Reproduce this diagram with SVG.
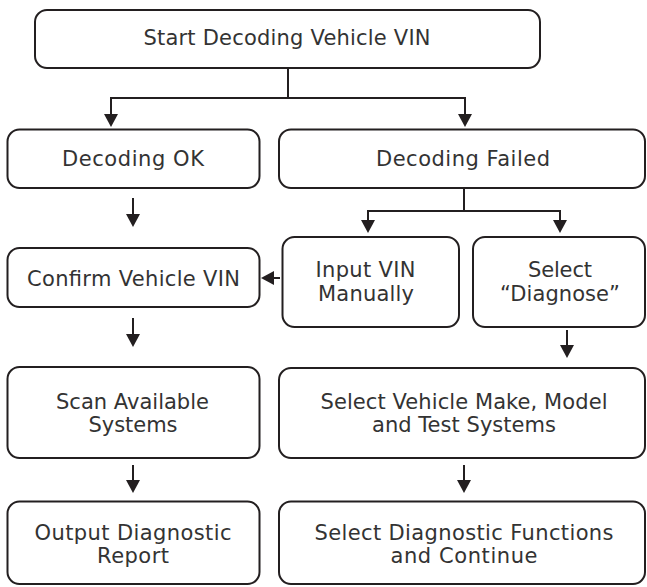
<svg xmlns="http://www.w3.org/2000/svg" width="647" height="587" viewBox="0 0 647 587">
  <style>
    .box { fill: #ffffff; stroke: #231f20; stroke-width: 2; }
    .lbl { font-family: "DejaVu Sans", "Liberation Sans", sans-serif; font-size: 21px; fill: #333333; text-anchor: middle; }
    .con { fill: none; stroke: #231f20; stroke-width: 2; }
    .arr { fill: none; stroke: #231f20; stroke-width: 2; marker-end: url(#ah); }
  </style>
  <defs>
    <marker id="ah" markerUnits="userSpaceOnUse" markerWidth="14" markerHeight="14" refX="8" refY="7" orient="auto">
      <path d="M0,0 L13,7 L0,14 Z" fill="#231f20"/>
    </marker>
  </defs>
  <rect width="647" height="587" fill="#ffffff"/>

  <g id="connectors">
    <path class="con" d="M288,68 V98 M111,98 H465"/>
    <path class="arr" d="M111,97 V122"/>
    <path class="arr" d="M465,97 V122"/>
    <path class="arr" d="M133,198 V222"/>
    <path class="con" d="M464,188 V211 M367,211 H561"/>
    <path class="arr" d="M368,210 V228"/>
    <path class="arr" d="M560,210 V228"/>
    <path class="arr" d="M280,278 H266"/>
    <path class="arr" d="M133,318 V342"/>
    <path class="arr" d="M567,330 V353"/>
    <path class="arr" d="M133,465 V488"/>
    <path class="arr" d="M464,465 V488"/>
  </g>

  <g id="start">
    <rect class="box" x="35" y="10" width="505" height="58" rx="12"/>
    <text class="lbl" x="287" y="44.5" textLength="287">Start Decoding Vehicle VIN</text>
  </g>
  <g id="decoding-ok">
    <rect class="box" x="7.5" y="129.5" width="252" height="58.5" rx="12"/>
    <text class="lbl" x="133" y="166" textLength="142">Decoding OK</text>
  </g>
  <g id="decoding-failed">
    <rect class="box" x="279" y="129.5" width="366" height="58.5" rx="12"/>
    <text class="lbl" x="463" y="166" textLength="174">Decoding Failed</text>
  </g>
  <g id="confirm-vin">
    <rect class="box" x="7.5" y="248" width="252" height="59" rx="12"/>
    <text class="lbl" x="133.5" y="285.5" textLength="213">Confirm Vehicle VIN</text>
  </g>
  <g id="input-vin">
    <rect class="box" x="282.5" y="237" width="176.5" height="90" rx="12"/>
    <text class="lbl" x="365.5" y="276.5" textLength="100">Input VIN</text>
    <text class="lbl" x="366" y="300.5" textLength="96">Manually</text>
  </g>
  <g id="select-diagnose">
    <rect class="box" x="473" y="237" width="172" height="90" rx="12"/>
    <text class="lbl" x="560" y="276.5" textLength="64">Select</text>
    <text class="lbl" x="560" y="300.5" textLength="120">“Diagnose”</text>
  </g>
  <g id="scan-systems">
    <rect class="box" x="7.5" y="367" width="252" height="91" rx="12"/>
    <text class="lbl" x="132.5" y="408.5" textLength="153">Scan Available</text>
    <text class="lbl" x="133" y="431.5" textLength="89">Systems</text>
  </g>
  <g id="select-vehicle">
    <rect class="box" x="279" y="368" width="366" height="90" rx="12"/>
    <text class="lbl" x="464" y="408.5" textLength="287">Select Vehicle Make, Model</text>
    <text class="lbl" x="464" y="431.5" textLength="184">and Test Systems</text>
  </g>
  <g id="output-report">
    <rect class="box" x="7.5" y="501.5" width="252" height="82.5" rx="12"/>
    <text class="lbl" x="133" y="540" textLength="197">Output Diagnostic</text>
    <text class="lbl" x="133" y="563" textLength="72">Report</text>
  </g>
  <g id="select-functions">
    <rect class="box" x="279" y="501.5" width="366" height="82.5" rx="12"/>
    <text class="lbl" x="464" y="540" textLength="299">Select Diagnostic Functions</text>
    <text class="lbl" x="464" y="563" textLength="147">and Continue</text>
  </g>
</svg>
